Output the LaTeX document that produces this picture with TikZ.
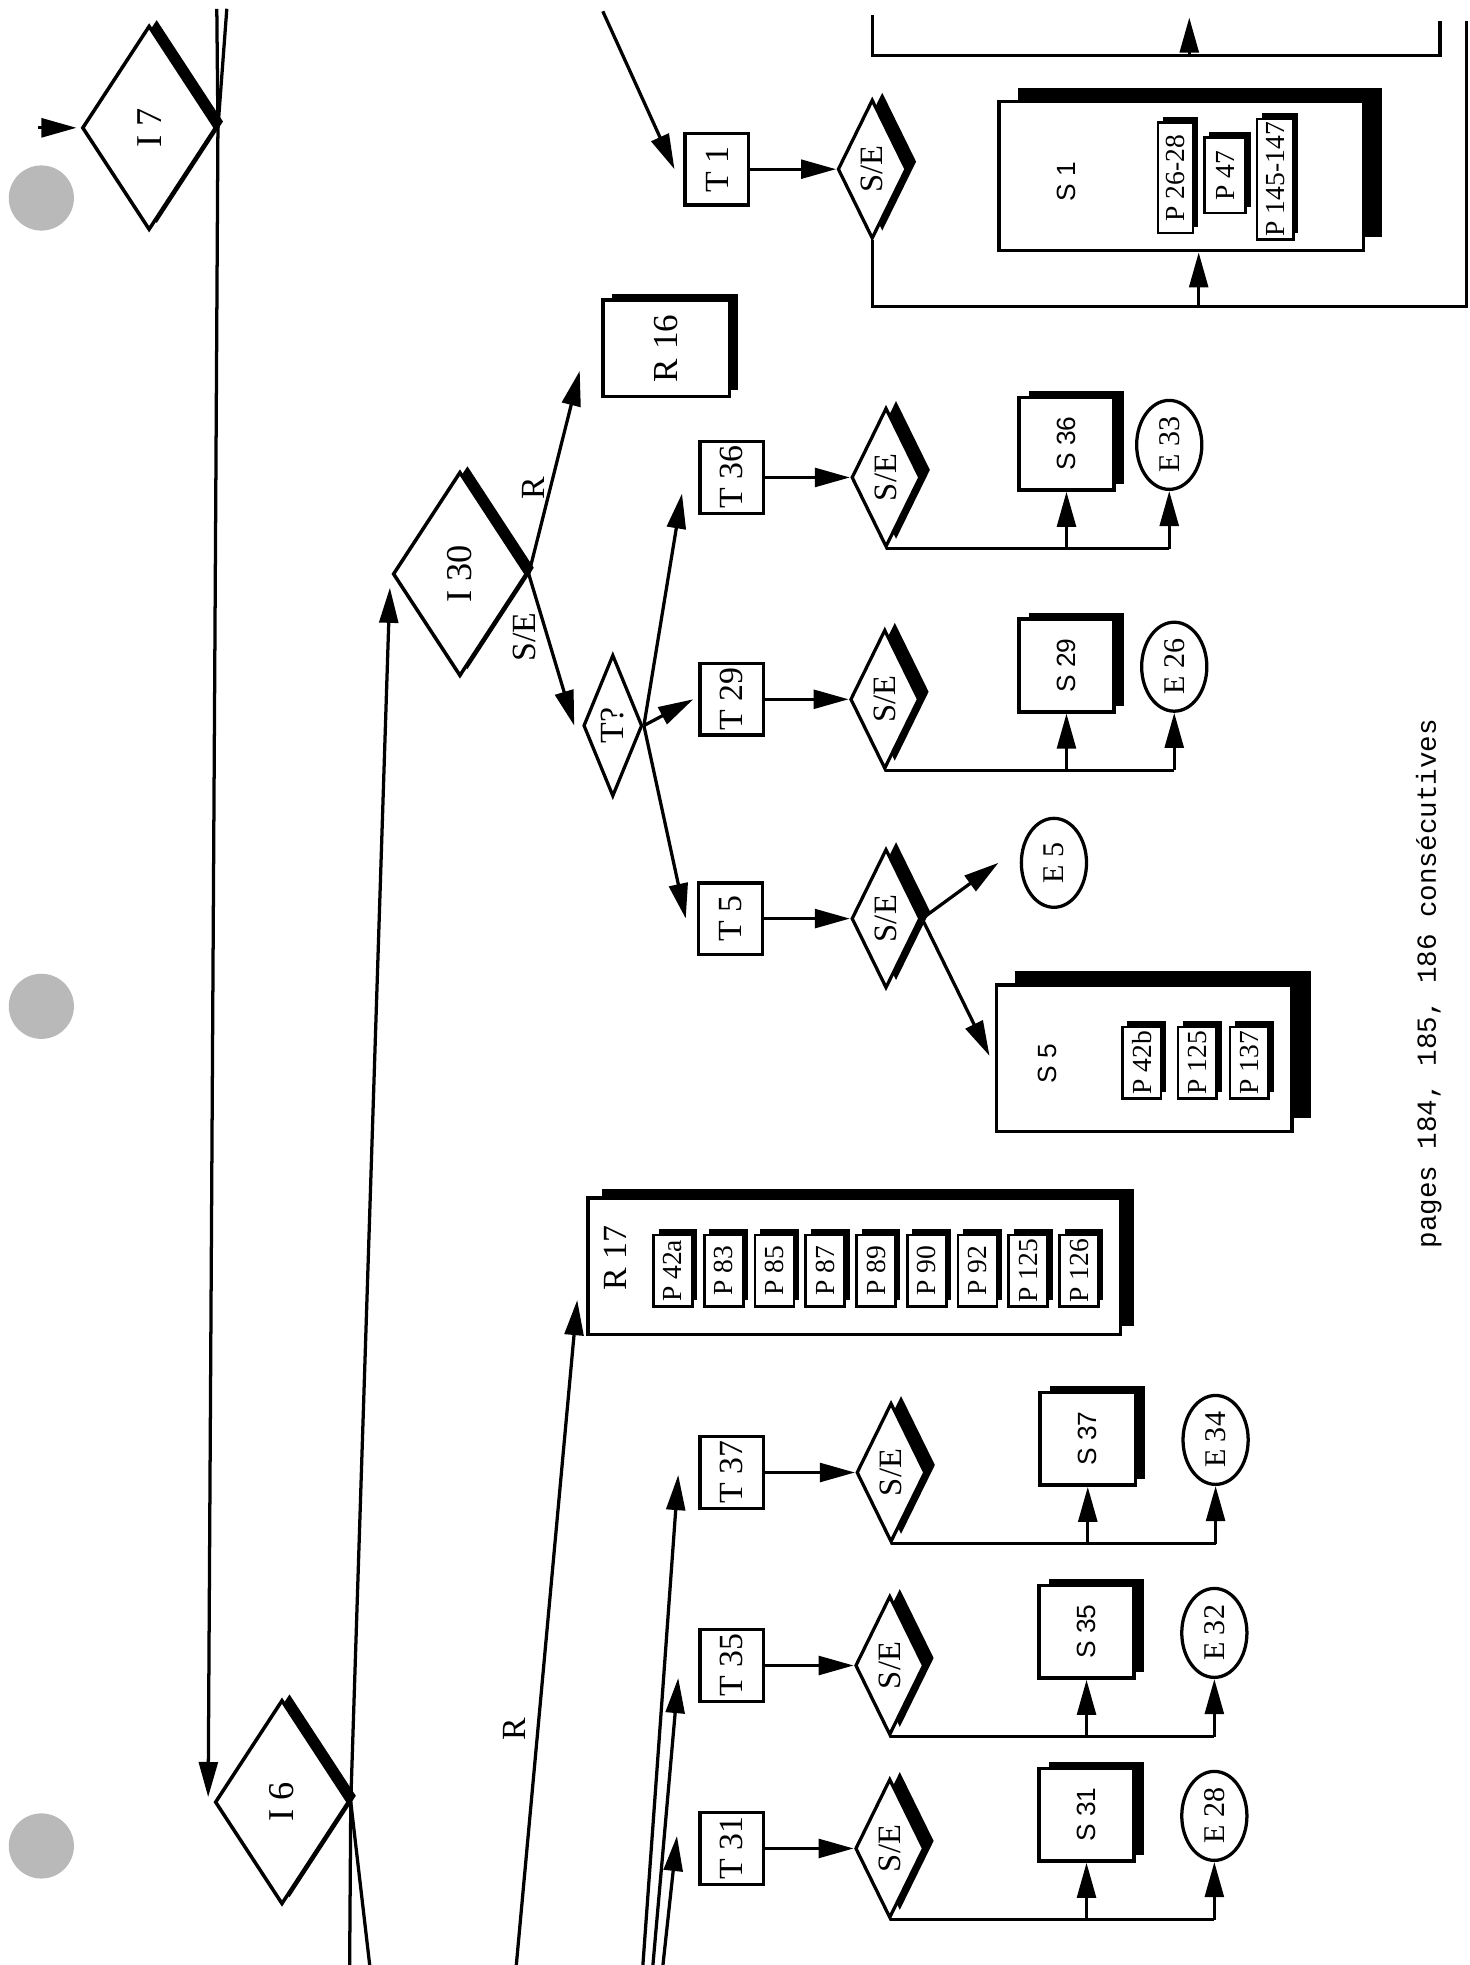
\documentclass[tikz,border=0pt]{standalone}
\usepackage{fontspec}
\setmainfont{Liberation Serif}
\setsansfont{Liberation Sans}
\setmonofont{Liberation Mono}
\usepackage{graphicx}
\usepackage{tikz}
\usetikzlibrary{
	shapes.geometric,
	arrows.meta,
	positioning,
	calc,
	shadows
}

\begin{document}
\begin{tikzpicture}[x=1pt, y=-1pt,
    ln/.style={line width=2.6pt},
    arr/.style={line width=2.6pt, -{Triangle[length=28pt, width=15pt]}},
    shd/.style 2 args={drop shadow={shadow xshift=#1pt, shadow yshift=#2pt, fill=black, opacity=1}},
    idiam/.style={diamond, draw, fill=white, line width=2.8pt, inner sep=0pt,
        minimum width=107pt, minimum height=163pt, font=\fontsize{29}{29}\selectfont, shd={6}{5}},
    sediam/.style={diamond, draw, fill=white, line width=2.6pt, inner sep=0pt,
        minimum width=48pt, minimum height=111pt, font=\fontsize{26}{26}\selectfont, shd={8}{6}},
    tbox/.style={draw, fill=white, line width=2.6pt, inner sep=0pt,
        minimum width=51pt, minimum height=57pt, font=\fontsize{27}{27}\selectfont},
    sbox/.style={draw, fill=white, line width=2.8pt, inner sep=0pt,
        minimum width=76pt, minimum height=74pt, font=\sffamily\fontsize{21}{21}\selectfont, shd={8}{5}},
    ebox/.style={ellipse, draw, fill=white, line width=2.6pt, inner sep=0pt,
        minimum width=52pt, minimum height=71pt, font=\fontsize{24}{24}\selectfont},
    pbox/.style={draw, fill=white, line width=2.2pt, inner sep=0pt,
        minimum width=31pt, minimum height=57pt, font=\fontsize{22}{22}\selectfont, shd={4}{5}},
    bigbox/.style 2 args={draw, fill=white, line width=2.8pt, inner sep=0pt, shd={#1}{#2}},
    lab/.style={font=\fontsize{27}{27}\selectfont, inner sep=0pt},
    slab/.style={font=\sffamily\fontsize{21}{21}\selectfont, inner sep=0pt}
]
\useasboundingbox (0,0) rectangle (1173,1568);

% Helper macro for one T -> S/E -> S, E row
% Arguments: y, T number, S number, E number, x of S/E, x of S, x of E
\def\serow#1#2#3#4#5#6#7{
    \node[tbox] (t#2) at (584,#1) {\rotatebox{90}{T #2}};
    \node[sediam] (se#2) at (#5,#1) {\rotatebox{90}{S/E}};
    \node[sbox] (s#3) at (#6,#1-27) {\rotatebox{90}{S #3}};
    \node[ebox] (e#4) at (#7,#1-26) {\rotatebox{90}{E #4}};
    \draw[arr] (t#2) -- (se#2);
    \draw[ln] (se#2.south) -- (se#2.south -| e#4.south);
    \draw[arr] (se#2.south -| s#3.south) -- (s#3.south);
    \draw[arr] (se#2.south -| e#4.south) -- (e#4.south);
}

% Punch holes
\foreach \y in {158, 803, 1473}
    \fill[gray!55] (33,\y) circle[radius=26];

% Decision diamonds
\node[idiam] (i7) at (119,102) {\rotatebox{90}{I 7}};
\node[idiam] (i6) at (225,1438) {\rotatebox{90}{I 6}};
\node[idiam] (i30) at (367,458) {\rotatebox{90}{I 30}};
\node[diamond, draw, fill=white, line width=2.6pt, inner sep=0pt, minimum width=47pt,
    minimum height=113pt, font=\fontsize{27}{27}\selectfont] (tq) at (489,579) {\rotatebox{90}{T?}};

% Free ends at the page edges
\coordinate (topa) at (173,7);
\coordinate (topb) at (181,7);
\coordinate (bota) at (279,1568);
\coordinate (botb) at (295,1568);
\coordinate (botr) at (412,1568);
\coordinate (bot37) at (513,1568);
\coordinate (bot35) at (521,1568);
\coordinate (bot31) at (529,1568);
\coordinate (topt1) at (481,9);
\coordinate (loopr) at (1170,17);
\coordinate (brkl) at (696,12);
\coordinate (brkr) at (1149,17);
\coordinate (brkin) at (949,14);

% R 16 and R 17
\node[bigbox={7}{5}, minimum width=101pt, minimum height=77pt, font=\fontsize{28}{28}\selectfont]
    (r16) at (531.5,278) {\rotatebox{90}{R 16}};
\node[bigbox={11}{7}, minimum width=425pt, minimum height=109pt] (r17) at (681.5,1010.5) {};
\node[lab] (r17lab) at (491,1004) {\rotatebox{90}{R 17}};
\foreach \lab [count=\i from 0] in {42a,83,85,87,89,90,92,125,126}
    \node[pbox] (r17p\i) at (537+40.5*\i,1014) {\rotatebox{90}{P \lab}};

% T 1 row with S 1
\node[tbox] (t1) at (572,135) {\rotatebox{90}{T 1}};
\node[sediam] (se1) at (696,135) {\rotatebox{90}{S/E}};
\node[bigbox={15}{11}, minimum width=291pt, minimum height=119pt] (s1) at (942.5,140.5) {};
\node[slab] (s1lab) at (851,145) {\rotatebox{90}{S 1}};
\node[pbox, minimum width=28pt, minimum height=88pt] (s1p1) at (938,142) {\rotatebox{90}{P 26-28}};
\node[pbox, minimum width=33pt, minimum height=60pt] (s1p2) at (977.5,140) {\rotatebox{90}{P 47}};
\node[pbox, minimum width=29pt, minimum height=96pt] (s1p3) at (1017.5,143) {\rotatebox{90}{P 145-147}};

% T 5 row with S 5 and E 5
\node[tbox] (t5) at (583,733) {\rotatebox{90}{T 5}};
\node[sediam] (se5) at (707,733) {\rotatebox{90}{S/E}};
\node[ebox] (e5) at (841,688.5) {\rotatebox{90}{E 5}};
\node[bigbox={15}{11}, minimum width=236pt, minimum height=117pt] (s5) at (913,844.5) {};
\node[slab] (s5lab) at (836,848.5) {\rotatebox{90}{S 5}};
\foreach \lab/\x [count=\i] in {42b/911, 125/955.5, 137/997}
    \node[pbox] (s5p\i) at (\x,848) {\rotatebox{90}{P \lab}};

% Rows
\serow{381}{36}{36}{33}{707}{851}{933}
\serow{558}{29}{29}{26}{706}{851}{937}
\serow{1175}{37}{37}{34}{711}{868}{970}
\serow{1329}{35}{35}{32}{710}{867}{969}
\serow{1475}{31}{31}{28}{710}{867}{969}

% Connectors, left part
\draw[arr] ($(i7.west)+(-34,0)$) -- ($(i7.west)+(-3,0)$);
\draw[ln] (i7.east) -- (topa);
\draw[ln] (i7.east) -- (topb);
\draw[arr] (i7.east) -- ($(i6.west)+(-4,-4)$);
\draw[ln] (i6.east) -- (bota);
\draw[ln] (i6.east) -- (botb);
\draw[arr] (i6.east) -- ($(i30.west)+(-1,11)$);
\draw[arr] (botr) -- node[lab, pos=.355, left=9pt] {\rotatebox{90}{R}} ($(r17.south west)+(-7,-29)$);
\draw[arr] (bot37) -- ($(t37.west)+(-16,2)$);
\draw[arr] (bot35) -- ($(t35.west)+(-16,10)$);
\draw[arr] (bot31) -- ($(t31.west)+(-17,-10)$);

% I 30 branches
\draw[arr] (i30.east) -- node[lab, pos=.42, left=3pt] {\rotatebox{90}{R}} ($(r16.south west)+(-17,-22)$);
\draw[arr] (i30.east) -- node[lab, pos=.415, left=8pt] {\rotatebox{90}{S/E}} ($(tq.west)+(-6,0)$);
\draw[arr] (tq.east) -- ($(t36.south west)+(-13,-17)$);
\draw[arr] (tq.east) -- ($(t29.west)+(-4,0)$);
\draw[arr] (tq.east) -- ($(t5.west)+(-9,0)$);

% T 5 branches
\draw[arr] (t5) -- (se5);
\draw[arr] (se5.east) -- ($(e5.west)+(-17,0)$);
\draw[arr] (se5.east) -- ($(s5.west)+(-4,-2)$);

% T 1 loop
\draw[arr] (topt1) -- ($(t1.west)+(-7,0)$);
\draw[arr] (t1) -- (se1);
\draw[ln] (se1.south) -- ++(0,53) -| (loopr);
\draw[arr] ($(s1.south)+(14,42)$) -- ($(s1.south)+(14,0)$);
\draw[ln] (brkl) -- ++(0,32) -| (brkr);
\draw[arr] ($(brkin)+(0,30)$) -- (brkin);

% Note
\node[font=\ttfamily\fontsize{22}{22}\selectfont, rotate=90] (note) at (1140,785)
    {pages 184, 185, 186 consécutives};

\end{tikzpicture}
\end{document}
